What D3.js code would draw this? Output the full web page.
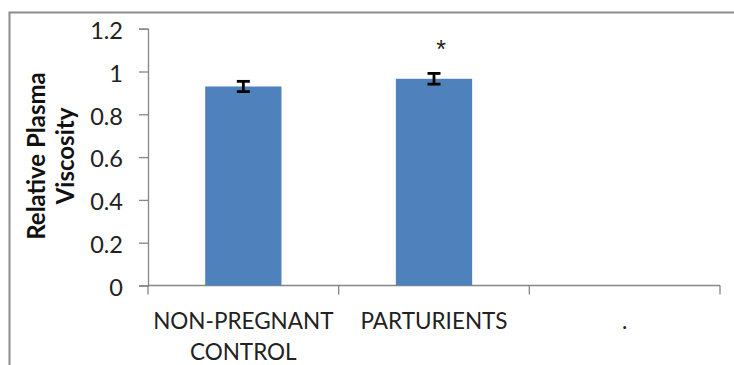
<!DOCTYPE html>
<html>
<head>
<meta charset="utf-8">
<script src="https://cdn.jsdelivr.net/npm/d3@7"></script>
<style>
  body { margin: 0; background: #fff; }
  svg { display: block; }
</style>
</head>
<body>
<script>
// data
const categories = ['NON-PREGNANT CONTROL', 'PARTURIENTS', '.'];
const labelLines = [['NON-PREGNANT', 'CONTROL'], ['PARTURIENTS'], ['.']];
const values = [0.93, 0.966, null];
const errors = [0.024, 0.025, null];
const marks = ['', '*', ''];
const yTicks = [0, 0.2, 0.4, 0.6, 0.8, 1, 1.2];

const W = 734, H = 365;
const margin = { left: 148, top: 28.7, right: 14, bottom: 79.5 };
const font = 'Lato, "Open Sans", sans-serif';

const svg = d3.select('body').append('svg')
  .attr('width', W).attr('height', H);

svg.append('rect').attr('width', W).attr('height', H).attr('fill', '#fff');

// outer chart frame (right and bottom edges are cropped in the original)
svg.append('path')
  .attr('d', `M9.5,${H} V12.5 H${W}`)
  .attr('fill', 'none').attr('stroke', '#8c8c8c').attr('stroke-width', 2);

const x = d3.scaleBand()
  .domain(categories)
  .range([margin.left, 720])
  .paddingInner(0.6).paddingOuter(0.3);

const y = d3.scaleLinear()
  .domain([0, 1.2])
  .range([H - margin.bottom, margin.top]);

// y axis
const yAxis = svg.append('g')
  .attr('transform', `translate(${margin.left},0)`)
  .call(d3.axisLeft(y).tickValues(yTicks).tickSize(9).tickPadding(16)
    .tickFormat(d => String(d)));
yAxis.select('.domain').attr('stroke', '#868686').attr('stroke-width', 1.3);
yAxis.selectAll('.tick line').attr('stroke', '#868686').attr('stroke-width', 1.3);
yAxis.selectAll('.tick text')
  .attr('fill', '#222').attr('font-family', font).attr('font-size', 23.5)
  .attr('dy', '0.42em');

// x axis with ticks between categories
const xStart = margin.left;
const xEnd = 720;
const xg = svg.append('g');
xg.append('line')
  .attr('x1', xStart).attr('x2', xEnd)
  .attr('y1', y(0)).attr('y2', y(0))
  .attr('stroke', '#868686').attr('stroke-width', 1.3);
const edgeX = [xStart].concat(categories.slice(1).map(c => x(c) - (x.step() - x.bandwidth()) / 2), [xEnd]);
xg.selectAll('line.tk').data(edgeX).join('line')
  .attr('class', 'tk')
  .attr('x1', d => d).attr('x2', d => d)
  .attr('y1', y(0)).attr('y2', y(0) + 9)
  .attr('stroke', '#868686').attr('stroke-width', 1.3);

// category labels
categories.forEach((c, i) => {
  const cx = x(c) + x.bandwidth() / 2;
  const t = svg.append('text')
    .attr('x', cx)
    .attr('y', 328.5)
    .attr('text-anchor', 'middle')
    .attr('font-family', font).attr('font-size', 22.5).attr('fill', '#222');
  labelLines[i].forEach((line, j) => {
    t.append('tspan')
      .attr('x', cx)
      .attr('dy', j === 0 ? 0 : 31.5)
      .text(line);
  });
});

// bars
const data = categories.map((c, i) => ({ c, v: values[i], e: errors[i], m: marks[i] }))
  .filter(d => d.v != null);

svg.selectAll('rect.bar').data(data).join('rect')
  .attr('class', 'bar')
  .attr('x', d => x(d.c))
  .attr('width', x.bandwidth())
  .attr('y', d => y(d.v))
  .attr('height', d => y(0) - y(d.v))
  .attr('fill', '#4f81bd');

// error bars
const capW = 13;
const mid = d => x(d.c) + x.bandwidth() / 2;
const eb = svg.selectAll('g.err').data(data).join('g').attr('class', 'err')
  .attr('stroke', '#000').attr('stroke-width', 2.8);
eb.append('line')
  .attr('x1', mid).attr('x2', mid)
  .attr('y1', d => y(d.v + d.e)).attr('y2', d => y(d.v - d.e));
eb.append('line')
  .attr('x1', d => mid(d) - capW / 2).attr('x2', d => mid(d) + capW / 2)
  .attr('y1', d => y(d.v + d.e)).attr('y2', d => y(d.v + d.e));
eb.append('line')
  .attr('x1', d => mid(d) - capW / 2).attr('x2', d => mid(d) + capW / 2)
  .attr('y1', d => y(d.v - d.e)).attr('y2', d => y(d.v - d.e));

// significance marks
svg.selectAll('text.mark').data(data.filter(d => d.m)).join('text')
  .attr('class', 'mark')
  .attr('x', d => mid(d) + 7)
  .attr('y', 58)
  .attr('text-anchor', 'middle')
  .attr('font-family', '"Liberation Sans", Arial, sans-serif')
  .attr('font-size', 25).attr('fill', '#222')
  .text(d => d.m);

// y axis title
const yTitle = svg.append('text')
  .attr('transform', `translate(0,156) rotate(-90)`)
  .attr('text-anchor', 'middle')
  .attr('font-family', font).attr('font-size', 24).attr('font-weight', 'bold')
  .attr('fill', '#111');
yTitle.append('tspan').attr('x', 0).attr('y', 45).text('Relative Plasma');
yTitle.append('tspan').attr('x', 0).attr('y', 74).text('Viscosity');
</script>
</body>
</html>
